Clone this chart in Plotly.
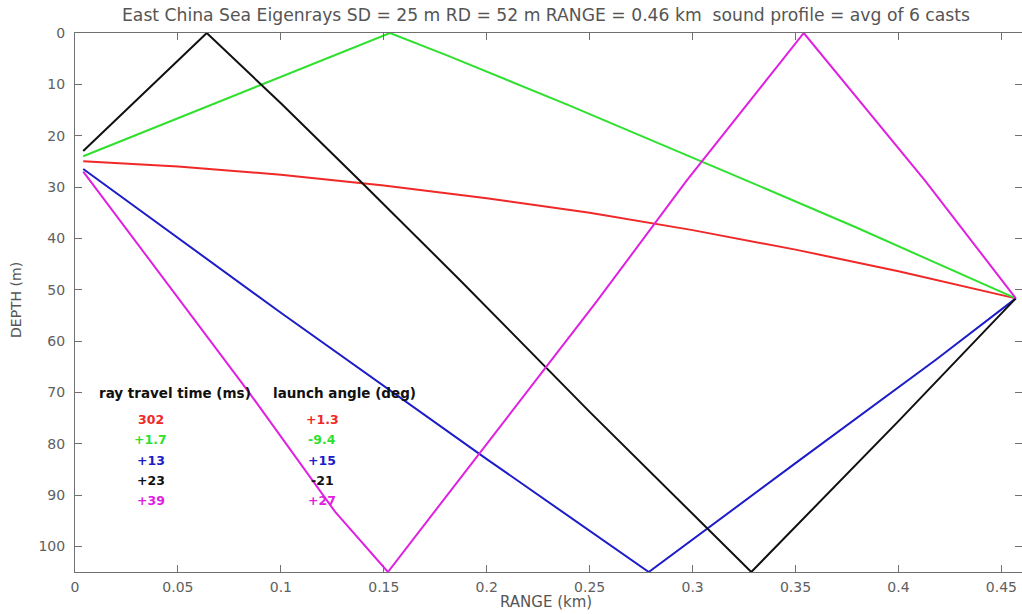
import plotly.graph_objects as go

# ---- ray data (range km, depth m) ----
red_r = [0.004, 0.05, 0.1, 0.15, 0.2, 0.25, 0.3, 0.35, 0.4, 0.457]
red_d = [25.0, 26.0, 27.6, 29.7, 32.2, 35.0, 38.4, 42.2, 46.4, 51.7]

green_r = [0.004, 0.0894, 0.153, 0.181, 0.24, 0.326, 0.379, 0.457]
green_d = [24.0, 10.2, 0.0, 4.4, 14.1, 28.7, 37.8, 51.7]

blue_r = [0.004, 0.1, 0.2, 0.2787, 0.35, 0.418, 0.457]
blue_d = [26.5, 54.5, 83.0, 105.0, 83.8, 63.7, 51.7]

black_r = [0.004, 0.064, 0.1, 0.14, 0.1874, 0.25, 0.3285, 0.4, 0.457]
black_d = [23.0, 0.0, 13.7, 29.4, 48.3, 73.8, 105.0, 75.6, 51.7]

magenta_r = [0.004, 0.0845, 0.1264, 0.152, 0.2536, 0.297, 0.354, 0.413, 0.457]
magenta_d = [27.0, 70.0, 93.3, 105.0, 52.2, 28.8, 0.0, 28.8, 51.7]

ray_names = ["direct", "surface", "bottom", "surface-bottom", "bottom-surface"]
ray_colors = ["#f02828", "#2fe02f", "#1c1cc8", "#101010", "#e020e0"]

headers = ["ray travel time (ms)", "launch angle (deg)"]
travel_times = ["302", "+1.7", "+13", "+23", "+39"]
launch_angles = ["+1.3", "-9.4", "+15", "-21", "+27"]

x_ticks = [0, 0.05, 0.1, 0.15, 0.2, 0.25, 0.3, 0.35, 0.4, 0.45]
x_ticklabels = ["0", "0.05", "0.1", "0.15", "0.2", "0.25", "0.3", "0.35", "0.4", "0.45"]
y_ticks = [0, 10, 20, 30, 40, 50, 60, 70, 80, 90, 100]

title_text = ("East China Sea Eigenrays SD = 25 m RD = 52 m RANGE = 0.46 km  "
              "sound profile = avg of 6 casts")
x_title = "RANGE (km)"
y_title = "DEPTH (m)"

rays = [(red_r, red_d), (green_r, green_d), (blue_r, blue_d),
        (black_r, black_d), (magenta_r, magenta_d)]

FONT = "DejaVu Sans"
W, H = 1022, 614
ML, MR, MT, MB = 75, 0, 33, 42

fig = go.Figure()
for (xr, yd), name, col in zip(rays, ray_names, ray_colors):
    fig.add_trace(go.Scatter(x=xr, y=yd, mode="lines", name=name,
                             line=dict(color=col, width=2), showlegend=False))

ann = []
ann.append(dict(x=0.0106, y=70.2, text="<b>%s</b>" % headers[0], xanchor="left",
                font=dict(color="#111", size=13.5, family=FONT)))
ann.append(dict(x=0.095, y=70.2, text="<b>%s</b>" % headers[1], xanchor="left",
                font=dict(color="#111", size=13.5, family=FONT)))
row0 = 75.3
step = 3.95
for i, (tt, la, col) in enumerate(zip(travel_times, launch_angles, ray_colors)):
    ann.append(dict(x=0.0367, y=row0 + i * step, text="<b>%s</b>" % tt,
                    xanchor="center", font=dict(color=col, size=12.5, family=FONT)))
    ann.append(dict(x=0.120, y=row0 + i * step, text="<b>%s</b>" % la,
                    xanchor="center", font=dict(color=col, size=12.5, family=FONT)))
for a in ann:
    a.update(xref="x", yref="y", showarrow=False, yanchor="middle")

plot_w = W - ML - MR
plot_h = H - MT - MB
def px_to_paper_x(px):
    return (px - ML) / plot_w
def py_to_paper_y(py):
    return (H - MB - py) / plot_h

ann.append(dict(x=px_to_paper_x(546), y=py_to_paper_y(15), xref="paper", yref="paper",
                text=title_text, showarrow=False, xanchor="center", yanchor="middle",
                font=dict(family=FONT, size=17.2, color="#555")))
ann.append(dict(x=px_to_paper_x(546), y=py_to_paper_y(602), xref="paper", yref="paper",
                text=x_title, showarrow=False, xanchor="center", yanchor="middle",
                font=dict(family=FONT, size=15, color="#555")))
ann.append(dict(x=px_to_paper_x(16), y=py_to_paper_y(300), xref="paper", yref="paper",
                text=y_title, showarrow=False, xanchor="center", yanchor="middle",
                textangle=-90, font=dict(family=FONT, size=14, color="#555")))

axis_common = dict(showline=True, linecolor="#707070", linewidth=1, mirror="ticks",
                   ticks="inside", ticklen=7, tickcolor="#707070", showgrid=False,
                   zeroline=False, automargin=False,
                   tickfont=dict(family=FONT, size=14, color="#606060"))

fig.update_layout(
    width=W, height=H,
    margin=dict(l=ML, r=MR, t=MT, b=MB),
    paper_bgcolor="white", plot_bgcolor="white",
    xaxis=dict(range=[0, 0.46], tickvals=x_ticks, ticktext=x_ticklabels,
               ticklabelstandoff=2, **axis_common),
    yaxis=dict(range=[105, 0], tickvals=y_ticks, ticklabelstandoff=6,
               **axis_common),
    annotations=ann,
)

fig.write_html("out.html", config={"displayModeBar": False},
               post_script="document.body.style.margin='0px';document.body.style.overflow='hidden';")
